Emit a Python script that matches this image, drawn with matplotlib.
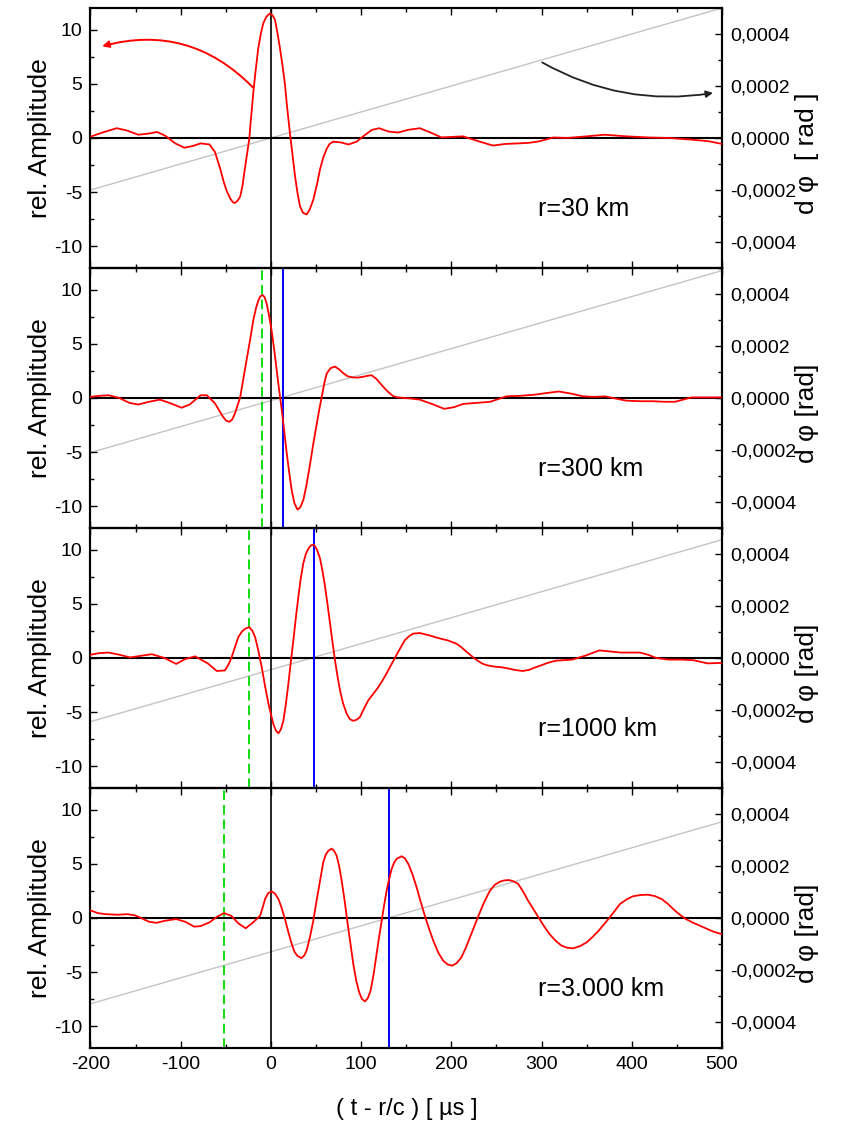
import numpy as np
import matplotlib
matplotlib.use('Agg')
import matplotlib.pyplot as plt
from matplotlib.ticker import MultipleLocator, FuncFormatter

plt.rcParams['font.family'] = ['Liberation Sans', 'DejaVu Sans']
plt.rcParams['axes.unicode_minus'] = False

# ---- data ----
t1 = [-199, -185, -171, -160, -147, -136, -126, -117, -106, -96, -87, -78, -68, -62, -56, -52.5, -49, -45, -42,
      -40, -37, -34, -31.5, -29, -26.5, -24, -22, -19.5, -17, -14, -11, -8.4, -5, -1, 2, 4.5, 7, 10, 13, 15.6,
      18, 21, 24, 26.7, 29.5, 32.2, 35.5, 39.6, 43, 47, 51, 54.4, 58, 61.8, 65, 69, 77, 86, 95,
      103, 112, 120, 130, 141, 152, 165, 177, 189, 201, 213, 230, 246, 260, 274, 286, 298, 313, 328, 350,
      370, 394, 418, 440, 466, 485, 500]
a1 = [0.15, 0.55, 0.9, 0.7, 0.3, 0.4, 0.55, 0.2, -0.5, -0.9, -0.75, -0.5, -0.6, -1.3, -2.9, -4.0, -4.9, -5.6, -5.95,
      -6.0, -5.8, -5.4, -4.4, -2.9, -1.5, -0.1, 1.9, 4.2, 6.2, 8.3, 9.7, 10.6, 11.2, 11.5, 11.3, 10.9, 9.8, 8.3, 6.6, 4.9,
      2.8, 0.5, -1.6, -3.5, -5.1, -6.3, -6.9, -7.06, -6.6, -5.7, -4.3, -2.9, -1.8, -1.0, -0.55, -0.34, -0.4, -0.6, -0.34,
      0.2, 0.75, 0.9, 0.6, 0.5, 0.75, 0.9, 0.5, 0.05, 0.1, 0.15, -0.3, -0.7, -0.55, -0.5, -0.45, -0.3, 0.05, 0.0, 0.15,
      0.3, 0.15, 0.05, 0.0, -0.15, -0.3, -0.55]

t2 = [-200, -190, -180, -168, -157, -147, -135, -123, -111, -99, -90, -78, -71, -62, -57, -53, -49.5, -46, -43,
      -40, -37, -34, -30.5, -27, -23, -19.5, -16.5, -14, -11.5, -9, -7, -4.7, -2, 1, 3.7, 6.4, 9, 12, 14.8,
      17.5, 20.3, 23, 26, 29.4, 32.5, 36, 39.5, 43.4, 47, 50.8, 53.5, 56.3, 59, 61.8, 66, 71, 75.5, 80, 85,
      91, 96, 102, 107, 111.6, 117, 122.7, 127, 132, 136, 141, 155, 165, 180, 192, 203, 213, 228, 243, 261,
      276, 292, 305, 319, 333, 346, 358, 370, 382, 394, 410, 424, 436, 448, 466, 485, 500]
a2 = [0.1, 0.2, 0.25, 0.0, -0.45, -0.6, -0.35, -0.15, -0.5, -0.9, -0.6, 0.25, 0.25, -0.5, -1.2, -1.75, -2.1, -2.2, -2.0,
      -1.45, -0.7, 0.1, 1.8, 3.5, 5.4, 7.2, 8.3, 9.0, 9.4, 9.5, 9.3, 8.7, 7.6, 6.1, 4.4, 2.55, 0.8, -1.1, -3.1,
      -5.1, -6.9, -8.5, -9.7, -10.3, -10.1, -9.4, -8.0, -6.1, -4.2, -2.4, -1.1, 0.1, 1.3, 2.25, 2.75, 2.9, 2.65, 2.3, 2.0,
      1.9, 1.88, 1.95, 2.05, 2.1, 1.75, 1.2, 0.8, 0.4, 0.15, 0.05, -0.05, -0.15, -0.6, -1.0, -0.85, -0.55, -0.45, -0.35, 0.15,
      0.2, 0.3, 0.45, 0.6, 0.4, 0.15, 0.1, 0.15, -0.05, -0.25, -0.3, -0.3, -0.35, -0.35, 0.05, 0.05, 0.05]

t3 = [-200, -190, -180, -168, -156, -144, -132, -118, -105, -95, -84, -70, -60, -51, -47, -43.4, -39.5, -36,
      -32, -28.6, -24, -20.5, -17.6, -14, -10.2, -6.5, -2.8, 0, 2.7, 5.5, 8.3, 11, 13.8, 16.5, 19.3, 22, 24.9,
      27.6, 30.4, 33, 35.9, 38.7, 41.5, 44.5, 47.8, 51, 54.4, 57.2, 60, 62.8, 65.5, 68.2, 71, 73.8, 76.6, 80,
      84, 87.5, 91.3, 95, 98.7, 103, 108, 113.5, 119, 123.5, 128, 133.5, 139, 144, 148.5, 153, 157.7, 165, 175,
      185, 197, 206, 211, 215, 220, 225, 230, 235, 241, 248, 255, 262, 270, 279, 286, 292, 299, 305, 311, 316,
      334, 348, 364, 376, 388, 400, 409, 418, 427, 440, 455, 468, 484, 500]
a3 = [0.3, 0.45, 0.5, 0.3, 0.05, 0.2, 0.35, 0.0, -0.55, -0.1, 0.15, -0.5, -1.2, -1.15, -0.6, 0.1, 1.1, 1.95,
      2.45, 2.7, 2.85, 2.5, 1.95, 0.7, -0.85, -2.6, -4.2, -5.2, -6.1, -6.7, -6.95, -6.6, -5.8, -4.3, -2.4, -0.4, 1.65,
      3.7, 5.65, 7.3, 8.75, 9.6, 10.1, 10.4, 10.45, 10.0, 9.2, 8.0, 6.6, 4.9, 3.2, 1.5, -0.2, -1.7, -3.0, -4.2,
      -5.15, -5.65, -5.8, -5.7, -5.45, -4.7, -3.9, -3.3, -2.7, -2.1, -1.45, -0.6, 0.25, 1.0, 1.65, 2.0, 2.25, 2.3, 2.1,
      1.85, 1.6, 1.3, 1.0, 0.7, 0.35, 0.0, -0.3, -0.55, -0.7, -0.8, -0.85, -0.95, -1.1, -1.2, -1.1, -0.9, -0.7, -0.5, -0.35, -0.25,
      -0.15, 0.2, 0.7, 0.6, 0.5, 0.5, 0.5, 0.3, 0.0, -0.15, -0.15, -0.2, -0.5, -0.45]

t4 = [-200, -192, -183, -170, -159, -151, -144, -135, -127, -117, -105, -95, -85, -78, -68, -60, -52, -44,
      -36, -28, -21, -12, -9, -6.5, -3, 0.9, 4.5, 8.3, 12, 15.6, 19.3, 23, 26, 29.3, 34, 37, 39.6, 43.3, 47,
      49.8, 52.5, 55.3, 58, 60.8, 63.6, 67.3, 70, 72.8, 75.6, 78.4, 81.5, 84.6, 88, 91.3, 94.6, 98, 101, 104.2,
      107.4, 110.5, 113.8, 117, 119.8, 122.7, 125.5, 128.2, 131, 133.7, 136.5, 139.3, 144.8, 148.5, 152.2,
      156.8, 161.4, 166, 170.6, 175.3, 180, 185.5, 191, 196, 201, 206, 211, 215.8, 220.5, 225.3, 230, 236.3,
      242.6, 248, 253.7, 258.8, 264, 269, 274, 279.5, 285, 291, 297, 303, 309, 315.5, 322, 328.5, 335, 342.5,
      350, 356.5, 363, 369, 375, 381, 387, 394, 401, 409.5, 418, 425.5, 433, 440, 447.5, 454, 460, 467.5,
      475, 482.5, 490, 495, 500]
a4 = [0.7, 0.45, 0.35, 0.3, 0.35, 0.25, 0.0, -0.35, -0.45, -0.25, -0.1, -0.35, -0.8, -0.75, -0.4, 0.1, 0.45, 0.2,
      -0.5, -0.95, -0.5, 0.2, 1.0, 1.75, 2.3, 2.45, 2.25, 1.75, 0.9, -0.1, -1.3, -2.4, -3.1, -3.5, -3.7, -3.45, -3.0, -1.75, -0.25,
      1.2, 2.5, 3.9, 5.15, 5.85, 6.2, 6.4, 6.2, 5.75, 4.8, 3.45, 1.7, -0.25, -2.3, -4.25, -5.8, -6.9, -7.5, -7.7,
      -7.4, -6.7, -5.2, -3.35, -1.8, -0.25, 1.2, 2.5, 3.6, 4.5, 5.1, 5.45, 5.7, 5.5, 5.0,
      4.05, 2.85, 1.5, 0.2, -1.0, -2.1, -3.2, -3.95, -4.3, -4.4, -4.15, -3.65, -2.8, -1.8, -0.8, 0.2, 1.45,
      2.5, 3.05, 3.35, 3.47, 3.5, 3.38, 3.15, 2.45, 1.6, 0.8, 0.0, -0.8, -1.5, -2.1, -2.55, -2.75, -2.8, -2.6,
      -2.25, -1.75, -1.2, -0.6, 0.0, 0.65, 1.3, 1.7, 2.0, 2.12, 2.15, 2.02, 1.75, 1.3, 0.7, 0.25, -0.1, -0.42,
      -0.7, -0.98, -1.25, -1.38, -1.5]

phase_t = [-200, 500]
phase = [[-0.0002, 0.0005], [-0.00021, 0.00049], [-0.000245, 0.000455], [-0.00033, 0.00037]]

green_t = [None, -10, -24, -52]
blue_t = [None, 13, 48, 131]
labels = ['r=30 km', 'r=300 km', 'r=1000 km', 'r=3.000 km']
right_labels = ['d \u03c6  [ rad ]', 'd \u03c6 [rad]', 'd \u03c6 [rad]', 'd \u03c6 [rad]']

ts = [t1, t2, t3, t4]
amps = [a1, a2, a3, a4]


def comma_fmt(v, pos):
    return ('%.4f' % v).replace('.', ',').replace('-0,0000', '0,0000')


fig, axes = plt.subplots(4, 1, figsize=(8.44, 11.23), dpi=100, sharex=True)
fig.subplots_adjust(left=0.1072, right=0.8555, top=0.9929, bottom=0.0668, hspace=0)

for i, ax in enumerate(axes):
    tw = ax.twinx()
    ax.set_zorder(tw.get_zorder() + 1)
    ax.patch.set_visible(False)

    tw.plot(phase_t, phase[i], color='#c4c4c4', lw=1.0)
    tw.set_ylim(-0.0005, 0.0005)
    tw.yaxis.set_major_locator(MultipleLocator(0.0002))
    tw.yaxis.set_minor_locator(MultipleLocator(0.0001))
    tw.yaxis.set_major_formatter(FuncFormatter(comma_fmt))
    tw.tick_params(axis='y', which='both', direction='in', labelsize=14, pad=6)
    tw.tick_params(axis='y', which='major', length=5, width=1)
    tw.tick_params(axis='y', which='minor', length=3, width=1)
    tw.text(1.135, 0.44, right_labels[i], transform=tw.transAxes, rotation=90,
            ha='center', va='center', fontsize=19)

    ax.axhline(0, color='black', lw=1.5, zorder=2)
    ax.axvline(0, color='black', lw=1.2, zorder=2)
    if green_t[i] is not None:
        ax.axvline(green_t[i], color='#11dd11', lw=1.4, dashes=(5, 2.5), zorder=2)
        ax.axvline(blue_t[i], color='#0000ff', lw=1.4, zorder=2)
    ax.plot(ts[i], amps[i], color='#ff0000', lw=1.3, zorder=3)

    ax.set_xlim(-200, 500)
    ax.set_ylim(-12, 12)
    ax.yaxis.set_major_locator(MultipleLocator(5))
    ax.yaxis.set_minor_locator(MultipleLocator(2.5))
    ax.xaxis.set_major_locator(MultipleLocator(100))
    ax.xaxis.set_minor_locator(MultipleLocator(50))
    ax.tick_params(which='both', direction='in', top=True, labelsize=14, pad=6)
    ax.tick_params(which='major', length=5, width=1)
    ax.tick_params(which='minor', length=3, width=1)
    for sp in list(ax.spines.values()) + list(tw.spines.values()):
        sp.set_linewidth(1.5)

    ax.text(-0.08, 0.5, 'rel. Amplitude', transform=ax.transAxes, rotation=90,
            ha='center', va='center', fontsize=19)
    ax.text(296, -6.6, labels[i], ha='left', va='center', fontsize=18)

# arrows in the top panel pointing to the matching axes
axes[0].annotate('', xy=(-190, 8.4), xytext=(-18, 4.5),
                 arrowprops=dict(arrowstyle='-|>', color='#ff0000', lw=1.4,
                                 mutation_scale=10, connectionstyle='arc3,rad=0.3'),
                 zorder=4)
axes[0].annotate('', xy=(493, 4.2), xytext=(298, 7.1),
                 arrowprops=dict(arrowstyle='-|>', color='#222222', lw=1.3,
                                 mutation_scale=10, connectionstyle='arc3,rad=0.18'),
                 zorder=4)

axes[-1].set_xlabel('( t - r/c ) [ \u00b5s ]', fontsize=17, labelpad=18)

fig.savefig('out.png', dpi=100)
